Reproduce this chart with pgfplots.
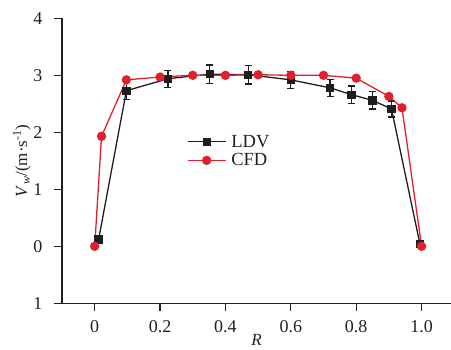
\documentclass[border=0pt]{standalone}
\usepackage{pgfplots}
\pgfplotsset{compat=1.18}
\usepackage{fontspec}
\setmainfont{Liberation Serif}
\definecolor{cfdred}{RGB}{226,32,45}
\definecolor{ldvblack}{RGB}{30,30,30}
\definecolor{txt}{RGB}{35,31,32}
\begin{document}
\begin{tikzpicture}
\begin{axis}[
  scale only axis,
  width=389pt, height=285pt,
  xmin=-0.1, xmax=1.09, ymin=-1, ymax=4,
  axis lines*=left,
  axis line style={line width=1.3pt, txt},
  tick style={line width=1.3pt, txt},
  tick align=outside,
  major tick length=7.5pt,
  xtick={0,0.2,0.4,0.6,0.8,1.0},
  xticklabels={0,0.2,0.4,0.6,0.8,1.0},
  ytick={-1,0,1,2,3,4},
  yticklabels={1,0,1,2,3,4},
  ticklabel style={font=\fontsize{18}{20}\selectfont, text=txt},
  yticklabel style={anchor=east, xshift=-12pt, inner sep=0pt},
  xticklabel style={anchor=north, yshift=-10pt, inner sep=0pt},
  /pgf/number format/assume math mode=true,
  xlabel={\textit{R}},
  ylabel={\textit{V}\textsubscript{\textit{w}}/(m·s\textsuperscript{-1})},
  label style={font=\fontsize{17}{19}\selectfont, text=txt},
  xlabel style={at={(axis description cs:0.5,-0.128)}, anchor=center},
  ylabel style={at={(axis description cs:-0.103,0.5)}, anchor=center},
  legend style={draw=none, fill=none, at={(axis description cs:0.321,0.595)}, anchor=north west,
    font=\fontsize{18.5}{20}\selectfont, row sep=3pt, column sep=4pt, text=txt, inner sep=0pt,
    nodes={inner sep=1pt}},
  legend image code/.code={\draw[mark repeat=2,mark phase=2] plot coordinates {(0pt,0pt)(19pt,0pt)(38pt,0pt)};},
  legend cell align=left,
  clip=false,
]
\addplot[ldvblack, line width=1.3pt, mark=square*, mark size=3.5pt,
  error bars/.cd, y dir=both, y explicit,
  error bar style={line width=1.3pt}, error mark options={rotate=90, mark size=3.5pt, line width=1.3pt}]
coordinates {
(0.012,0.12) +- (0,0)
(0.097,2.73) +- (0,0.15)
(0.224,2.94) +- (0,0.15)
(0.352,3.02) +- (0,0.16)
(0.47,3.01) +- (0,0.16)
(0.60,2.92) +- (0,0.15)
(0.72,2.78) +- (0,0.15)
(0.786,2.66) +- (0,0.15)
(0.85,2.56) +- (0,0.15)
(0.908,2.41) +- (0,0.14)
(0.995,0.04) +- (0,0)
};
\addlegendentry{LDV}
\addplot[cfdred, line width=1.3pt, mark=*, mark size=4pt]
coordinates {
(0.0,0.0)
(0.021,1.93)
(0.097,2.92)
(0.2,2.97)
(0.3,3.0)
(0.4,3.0)
(0.5,3.01)
(0.6,3.0)
(0.7,3.0)
(0.8,2.95)
(0.9,2.63)
(0.94,2.43)
(1.0,0.0)
};
\addlegendentry{CFD}
\end{axis}
\pgfresetboundingbox
\path[use as bounding box] (-62pt,-45.7pt) rectangle (389pt,303.3pt);
\end{tikzpicture}
\end{document}
